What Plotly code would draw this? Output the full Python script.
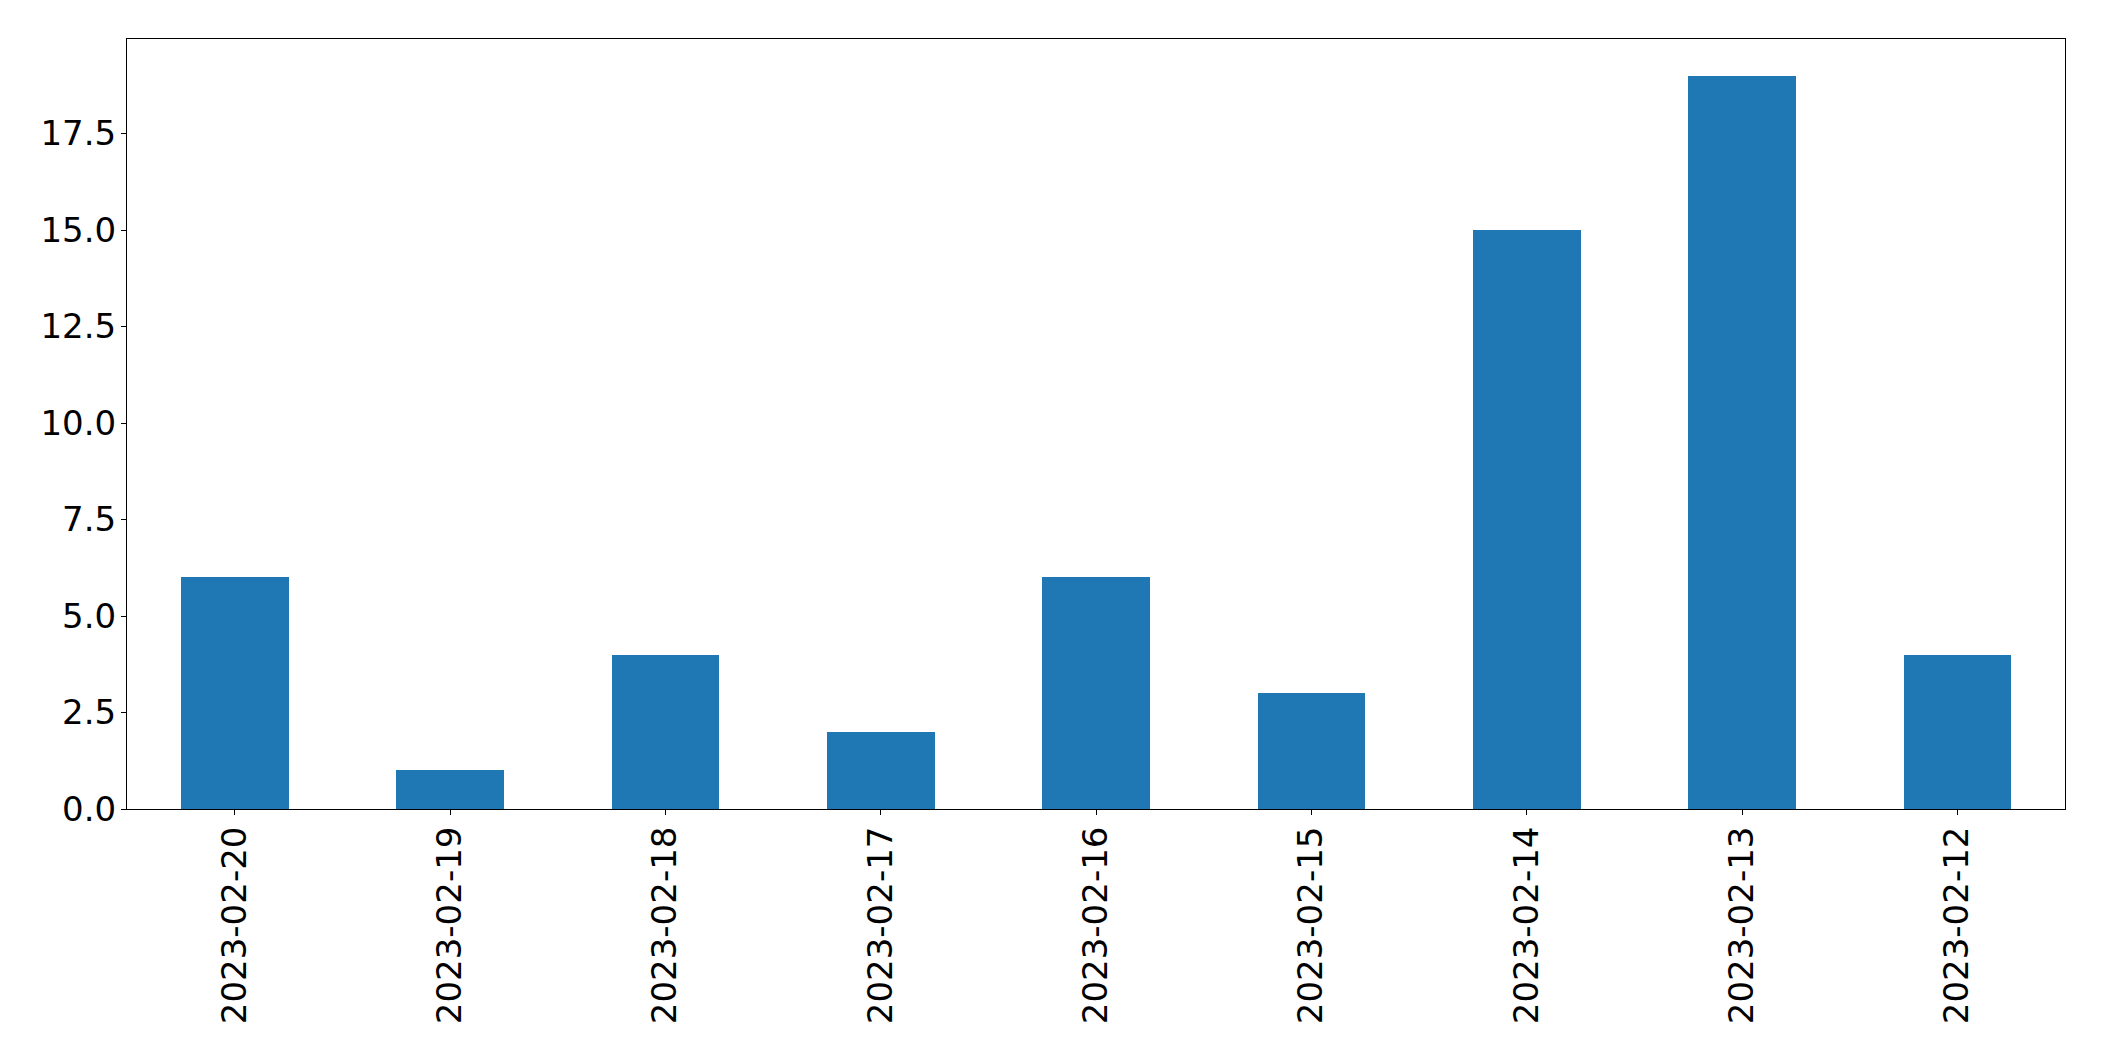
import plotly.graph_objects as go

dates = ["2023-02-20", "2023-02-19", "2023-02-18", "2023-02-17", "2023-02-16",
         "2023-02-15", "2023-02-14", "2023-02-13", "2023-02-12"]
counts = [6, 1, 4, 2, 6, 3, 15, 19, 4]
ytick_vals = [0, 2.5, 5, 7.5, 10, 12.5, 15, 17.5]
ytick_text = ["0.0", "2.5", "5.0", "7.5", "10.0", "12.5", "15.0", "17.5"]

fig = go.Figure(go.Bar(x=dates, y=counts, width=0.5, marker=dict(color="#1f77b4", line=dict(width=0))))

fig.update_layout(
    width=2088, height=1045,
    margin=dict(l=119, r=31, t=31, b=244),
    paper_bgcolor="white", plot_bgcolor="white",
    font=dict(family="DejaVu Sans", size=34, color="black"),
    showlegend=False,
    bargap=0,
)
fig.update_xaxes(type="category", range=[-0.5, 8.5], tickangle=-90,
                 showline=True, linecolor="black", linewidth=1, mirror=True,
                 ticks="outside", ticklen=5, tickcolor="black", showgrid=False, zeroline=False,
                 ticklabelstandoff=-2)
fig.update_yaxes(range=[0, 19.95], tickvals=ytick_vals, ticktext=ytick_text,
                 showline=True, linecolor="black", linewidth=1, mirror=True,
                 ticks="outside", ticklen=5, tickcolor="black", showgrid=False, zeroline=False,
                 ticklabelstandoff=-2)

fig.write_html("out.html")
